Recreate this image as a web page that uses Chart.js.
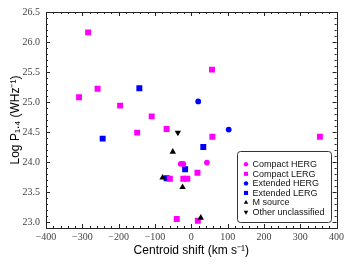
<!DOCTYPE html>
<html><head><meta charset="utf-8">
<style>html,body{margin:0;padding:0;background:#fff}</style>
<script src="https://cdn.jsdelivr.net/npm/chart.js@4.4.0/dist/chart.umd.min.js"></script>
</head><body><canvas id="c" width="352" height="264"></canvas>
<script>
// ---- data ----
const compactHergX = [-29, -22, 43];
const compactHergY = [23.97, 23.97, 23.99];
const compactLergX = [-284, -309, -258, -196, -149, -109, -68, 58, 57, 354, -59, -22, -11, 17, -40, 18];
const compactLergY = [26.16, 25.08, 25.22, 24.94, 24.49, 24.76, 24.55, 24.42, 25.54, 24.42, 23.72, 23.72, 23.72, 23.82, 23.05, 23.02];
const extHergX = [19, 103];
const extHergY = [25.01, 24.54];
const extLergX = [-143, -244, 33, -17, -68];
const extLergY = [25.23, 24.39, 24.25, 23.88, 23.73];
const mSourceX = [-51, -79, -24, 26];
const mSourceY = [24.17, 23.74, 23.58, 23.07];
const otherX = [-37];
const otherY = [24.49];
const xTicks = [-400, -300, -200, -100, 0, 100, 200, 300, 400];
const yTicks = [23.0, 23.5, 24.0, 24.5, 25.0, 25.5, 26.0, 26.5];
const seriesLabels = ['Compact HERG', 'Compact LERG', 'Extended HERG', 'Extended LERG', 'M source', 'Other unclassified'];

const pts = (xs, ys) => xs.map((x, i) => ({x: x, y: ys[i]}));

const styles = [
  {c: '#ff00ff', s: 'circle', r: 2.9, rot: 0, order: 3, lr: 2.2},
  {c: '#ff00ff', s: 'rect', r: 4.2, rot: 0, order: 2, lr: 2.9},
  {c: '#0000ff', s: 'circle', r: 2.9, rot: 0, order: 4, lr: 2.2},
  {c: '#0000ff', s: 'rect', r: 4.2, rot: 0, order: 5, lr: 2.9},
  {c: '#000000', s: 'triangle', r: 3.7, rot: 0, order: 0, lr: 2.6},
  {c: '#000000', s: 'triangle', r: 3.7, rot: 180, order: 1, lr: 2.6}
];
const dataSets = [pts(compactHergX, compactHergY), pts(compactLergX, compactLergY), pts(extHergX, extHergY),
  pts(extLergX, extLergY), pts(mSourceX, mSourceY), pts(otherX, otherY)];

const datasets = seriesLabels.map((l, i) => ({
  label: l, data: dataSets[i], order: styles[i].order,
  pointStyle: styles[i].s, pointRadius: styles[i].r, pointRotation: styles[i].rot,
  backgroundColor: styles[i].c, borderColor: styles[i].c, borderWidth: 0, pointBorderWidth: 0
}));

function drawMarker(ctx, style, r, rot, x, y) {
  ctx.beginPath();
  if (style === 'circle') { ctx.arc(x, y, r, 0, Math.PI * 2); }
  else if (style === 'rect') { const s = Math.SQRT1_2 * r; ctx.rect(x - s, y - s, 2 * s, 2 * s); }
  else {
    let rad = rot * Math.PI / 180;
    ctx.moveTo(x + Math.sin(rad) * r, y - Math.cos(rad) * r);
    rad += 2 * Math.PI / 3; ctx.lineTo(x + Math.sin(rad) * r, y - Math.cos(rad) * r);
    rad += 2 * Math.PI / 3; ctx.lineTo(x + Math.sin(rad) * r, y - Math.cos(rad) * r);
    ctx.closePath();
  }
  ctx.fill();
}

const framePlugin = {
  id: 'frame',
  afterDatasetsDraw(chart) {
    const ctx = chart.ctx, a = chart.chartArea, xs = chart.scales.x, ys = chart.scales.y;
    ctx.save();
    ctx.strokeStyle = '#222'; ctx.lineWidth = 1;
    ctx.strokeRect(Math.round(a.left) + 0.5, Math.round(a.top) + 0.5, Math.round(a.right - a.left), Math.round(a.bottom - a.top));
    ctx.beginPath();
    for (let v = -400; v <= 400; v += 20) {
      const major = v % 100 === 0, L = major ? 4 : 2;
      const px = Math.round(xs.getPixelForValue(v)) + 0.5;
      ctx.moveTo(px, a.bottom); ctx.lineTo(px, a.bottom - L);
      ctx.moveTo(px, a.top); ctx.lineTo(px, a.top + L);
    }
    for (let k = 229; k <= 265; k++) {
      const v = k / 10, major = k % 5 === 0, L = major ? 4 : 2;
      const py = Math.round(ys.getPixelForValue(v)) + 0.5;
      ctx.moveTo(a.left, py); ctx.lineTo(a.left + L, py);
      ctx.moveTo(a.right, py); ctx.lineTo(a.right - L, py);
    }
    ctx.stroke();
    // legend
    const bx = 237.5, by = 151.5, bw = 94, bh = 71;
    ctx.fillStyle = '#fff'; ctx.strokeStyle = '#333';
    ctx.beginPath(); ctx.roundRect(bx, by, bw, bh, 3); ctx.fill(); ctx.stroke();
    ctx.font = '9px "Liberation Sans", Arial, sans-serif';
    ctx.textBaseline = 'middle'; ctx.textAlign = 'left';
    chart.data.datasets.forEach((d, i) => {
      const yy = 164.3 + i * 9.55;
      ctx.fillStyle = d.backgroundColor;
      drawMarker(ctx, d.pointStyle, styles[i].lr, d.pointRotation, 246, yy);
      ctx.fillStyle = '#111';
      ctx.fillText(d.label, 252.5, yy + 0.5);
    });
    ctx.restore();
  }
};

new Chart(document.getElementById('c'), {
  type: 'scatter',
  data: {datasets: datasets},
  options: {
    responsive: false, animation: false, devicePixelRatio: 1,
    layout: {padding: {top: 11.5, right: 15.4, left: 0, bottom: 0}},
    plugins: {legend: {display: false}, tooltip: {enabled: false}},
    scales: {
      x: {
        type: 'linear', min: -400, max: 400,
        afterBuildTicks: s => { s.ticks = xTicks.map(v => ({value: v})); },
        afterFit: s => { s.height = 36; },
        grid: {display: false, drawTicks: false}, border: {display: false},
        ticks: {padding: 3, color: '#444', font: {family: '"Liberation Serif", serif', size: 10},
          maxRotation: 0, autoSkip: false, callback: v => String(v).replace('-', '\u2212')},
        title: {display: true, text: 'Centroid shift (km s\u207B\u00B9)', color: '#000',
          font: {family: '"Liberation Sans", Arial, sans-serif', size: 12}, padding: {top: 0, bottom: 6.5}}
      },
      y: {
        type: 'linear', min: 22.9, max: 26.5,
        afterBuildTicks: s => { s.ticks = yTicks.map(v => ({value: v})); },
        afterFit: s => { s.width = 46; },
        grid: {display: false, drawTicks: false}, border: {display: false},
        ticks: {padding: 6, color: '#444', font: {family: '"Liberation Serif", serif', size: 10},
          autoSkip: false, callback: v => Number(v).toFixed(1)},
        title: {display: true, text: 'Log P\u2081.\u2084 (WHz\u207B\u00B9)', color: '#000',
          font: {family: '"Liberation Sans", Arial, sans-serif', size: 12}, padding: {top: 8, bottom: 0}}
      }
    }
  },
  plugins: [framePlugin]
});
</script>
</body></html>
